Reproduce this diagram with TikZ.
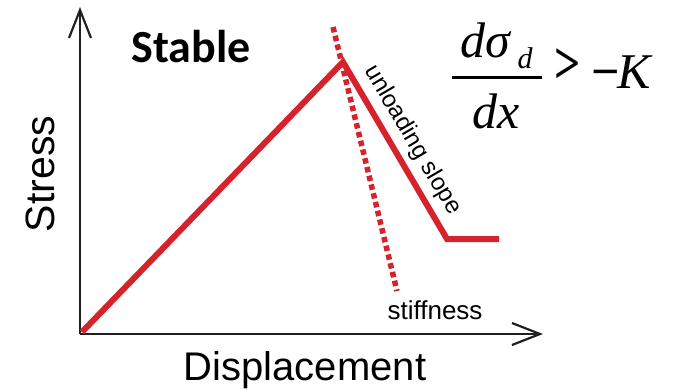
\documentclass[tikz,border=0pt]{standalone}
\usepackage{fontspec}
\usepackage{graphicx}
\setmainfont{Liberation Sans}
\newfontfamily\calib{Carlito}
\newfontfamily\tms{Liberation Serif}
\usetikzlibrary{arrows.meta}
\definecolor{curvered}{RGB}{214,34,42}
\definecolor{axisgray}{RGB}{35,31,32}
\tikzset{
  axisline/.style={draw=axisgray, line width=2.2pt, -{Straight Barb[length=28pt,width=22pt]}},
  curve/.style={draw=curvered, line width=6pt, line join=miter, line cap=butt},
  stiffline/.style={draw=curvered, line width=5.5pt, dash pattern=on 5.5pt off 3.5pt},
  lbl/.style={inner sep=0pt, text=black},
}
\begin{document}
\begin{tikzpicture}[x=1pt,y=-1pt]
\useasboundingbox (0,0) rectangle (677,389);
% coordinates
\coordinate (O) at (80,334);
\coordinate (ytop) at (80,7);
\coordinate (xend) at (543,334);
\coordinate (start) at (82,332);
\coordinate (peak) at (343,62);
\coordinate (knee) at (447,239);
\coordinate (tail) at (499,239);
\coordinate (s1) at (333,27);
\coordinate (s2) at (397,291);
% axes
\draw[axisline] (O) -- (ytop);
\draw[axisline] (O) -- (xend);
% curves
\draw[stiffline] (s1) -- (s2);
\draw[curve] (start) -- (peak) -- (knee) -- (tail);
% labels
\path (peak) -- node[lbl, sloped, above=9pt, font=\fontsize{24}{28}\selectfont] (unl) {unloading slope} (knee);
\node[lbl, anchor=base, font=\fontsize{26}{30}\selectfont] (stf) at (435,319) {stiffness};
\node[lbl, anchor=base, font=\fontsize{40}{48}\selectfont] (disp) at (305,380) {Displacement};
\node[lbl, rotate=90, font=\fontsize{41}{48}\selectfont] (stress) at (40,174) {Stress};
\node[lbl, anchor=base, font=\calib\bfseries\fontsize{46}{54}\selectfont] (stable) at (191,62) {Stable};
% formula
\node[lbl, anchor=base, font=\tms\itshape\fontsize{50}{58}\selectfont] (num) at (485,57) {dσ};
\node[lbl, anchor=base, font=\tms\itshape\fontsize{30}{34}\selectfont] (sub) at (525,68) {d};
\coordinate (barL) at (452,77.5);
\coordinate (barR) at (542,77.5);
\draw[line width=2.2pt] (barL) -- (barR);
\node[lbl, anchor=base, font=\tms\itshape\fontsize{50}{58}\selectfont] (den) at (496,128) {dx};
\node[lbl, anchor=base, font=\tms\bfseries\fontsize{46}{56}\selectfont] (gt) at (568,83) {\scalebox{1}[1.3]{>}};
\node[lbl, anchor=base west, font=\tms\fontsize{50}{58}\selectfont] (rhs) at (591,88) {\textbf{−}\kern-2pt\textit{K}};
\end{tikzpicture}
\end{document}
